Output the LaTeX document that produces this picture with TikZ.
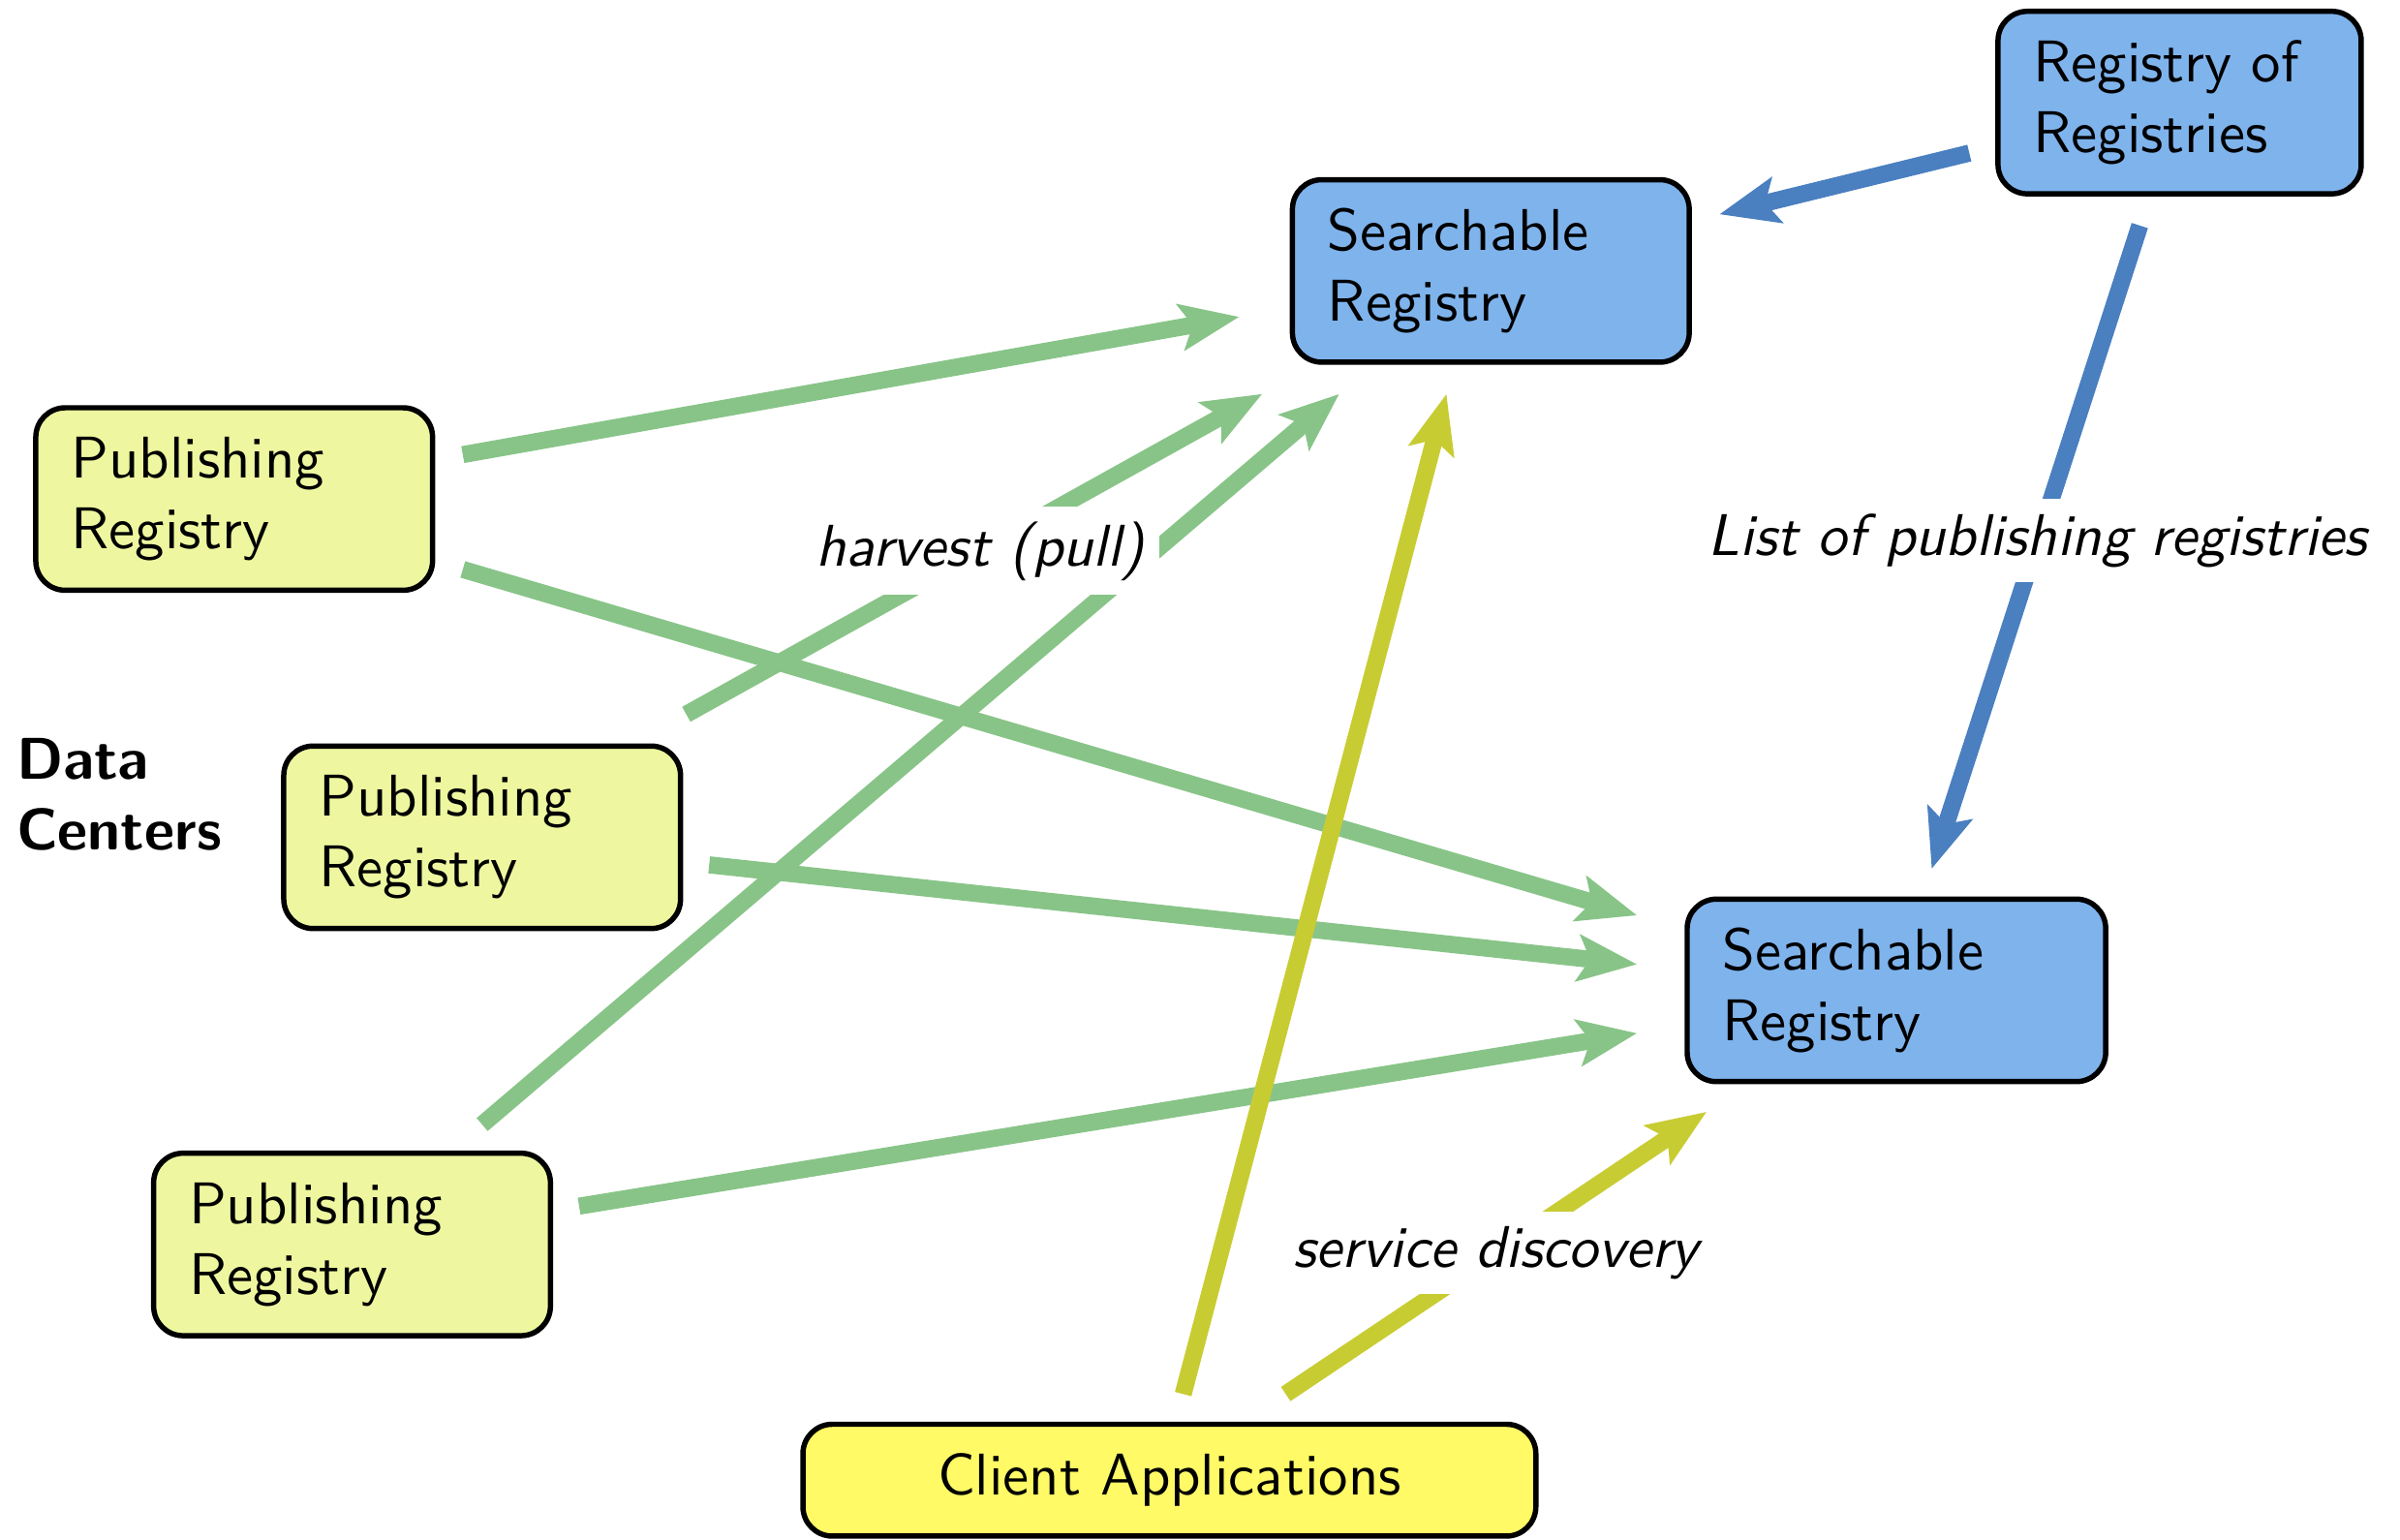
\documentclass[tikz,border=0pt]{standalone}
\usepackage{fontspec}
\usetikzlibrary{arrows.meta}
\renewcommand{\familydefault}{\sfdefault}
\definecolor{grn}{RGB}{136,196,136}
\definecolor{ylw}{RGB}{200,204,51}
\definecolor{blu}{RGB}{74,127,192}
\definecolor{boxblue}{RGB}{127,179,236}
\definecolor{boxpub}{RGB}{238,247,160}
\definecolor{boxclient}{RGB}{255,250,102}
\begin{document}
\begin{tikzpicture}[x=0.26pt,y=-0.26pt,
  box/.style={draw=black, line width=0.9pt, rounded corners=5pt, align=left,
    inner xsep=6pt, inner ysep=2pt, minimum height=31pt},
  pubbox/.style={box, fill=boxpub, text width=55.4pt},
  srchbox/.style={box, fill=boxblue},
  conn/.style={line width=2.9pt, -{Stealth[length=10pt,width=7.8pt,inset=2pt]}},
  garrow/.style={conn, draw=grn},
  yarrow/.style={conn, draw=ylw},
  barrow/.style={conn, draw=blu},
  lbl/.style={fill=white, font=\itshape, inner sep=2.5pt, text=black}
]
\useasboundingbox (0,0) rectangle (1568,1006);

% nodes
\node[pubbox] (pr1) at (153,326) {Publishing\\Registry};
\node[pubbox] (pr2) at (315,547) {Publishing\\Registry};
\node[pubbox] (pr3) at (230,813) {Publishing\\Registry};
\node[srchbox, text width=55.4pt] (sr1) at (974,177) {Searchable\\Registry};
\node[srchbox, text width=59.1pt] (sr2) at (1239,647) {Searchable\\Registry};
\node[srchbox, text width=49.7pt] (ror) at (1424,67) {Registry of\\Registries};
\node[box, fill=boxclient, align=center, minimum width=124.5pt, minimum height=19pt] (client) at (764,967) {Client Applications};
\node[anchor=west, align=left, inner sep=0pt, font=\bfseries] (dc) at (10,519) {Data\\Centers};

% green harvest arrows
\draw[garrow] ([shift={(18,-29)}]pr1.east) -- ([shift={(-33,30)}]sr1.west);
\draw[garrow] ([shift={(18,46)}]pr1.east) -- ([shift={(-31,-49)}]sr2.west);
\draw[garrow] ([shift={(85,-17)}]pr3.north) -- ([shift={(-99,19)}]sr1.south);
\draw[garrow] ([shift={(17,18)}]pr2.east) -- ([shift={(-31,-17)}]sr2.west);
\draw[garrow] ([shift={(17,-25)}]pr3.east) -- ([shift={(-31,28)}]sr2.west);
\draw[garrow] ([shift={(2,-19)}]pr2.north east) -- node[lbl, pos=0.51] (lh) {harvest (pull)} ([shift={(-18,19)}]sr1.south west);

% client arrows
\draw[yarrow] ([shift={(9,-18)}]client.north) -- ([shift={(-29,19)}]sr1.south);
\draw[yarrow] ([shift={(76,-18)}]client.north) -- node[lbl, pos=0.5] (ls) {service discovery} ([shift={(-124,18)}]sr2.south);

% registry of registries arrows
\draw[barrow] ([shift={(-17,33)}]ror.west) -- ([shift={(18,-37)}]sr1.east);
\draw[barrow] ([shift={(-26,19)}]ror.south) -- node[lbl, pos=0.49] (ll) {List of publishing registries} ([shift={(23,-18)}]sr2.north);
\end{tikzpicture}
\end{document}
